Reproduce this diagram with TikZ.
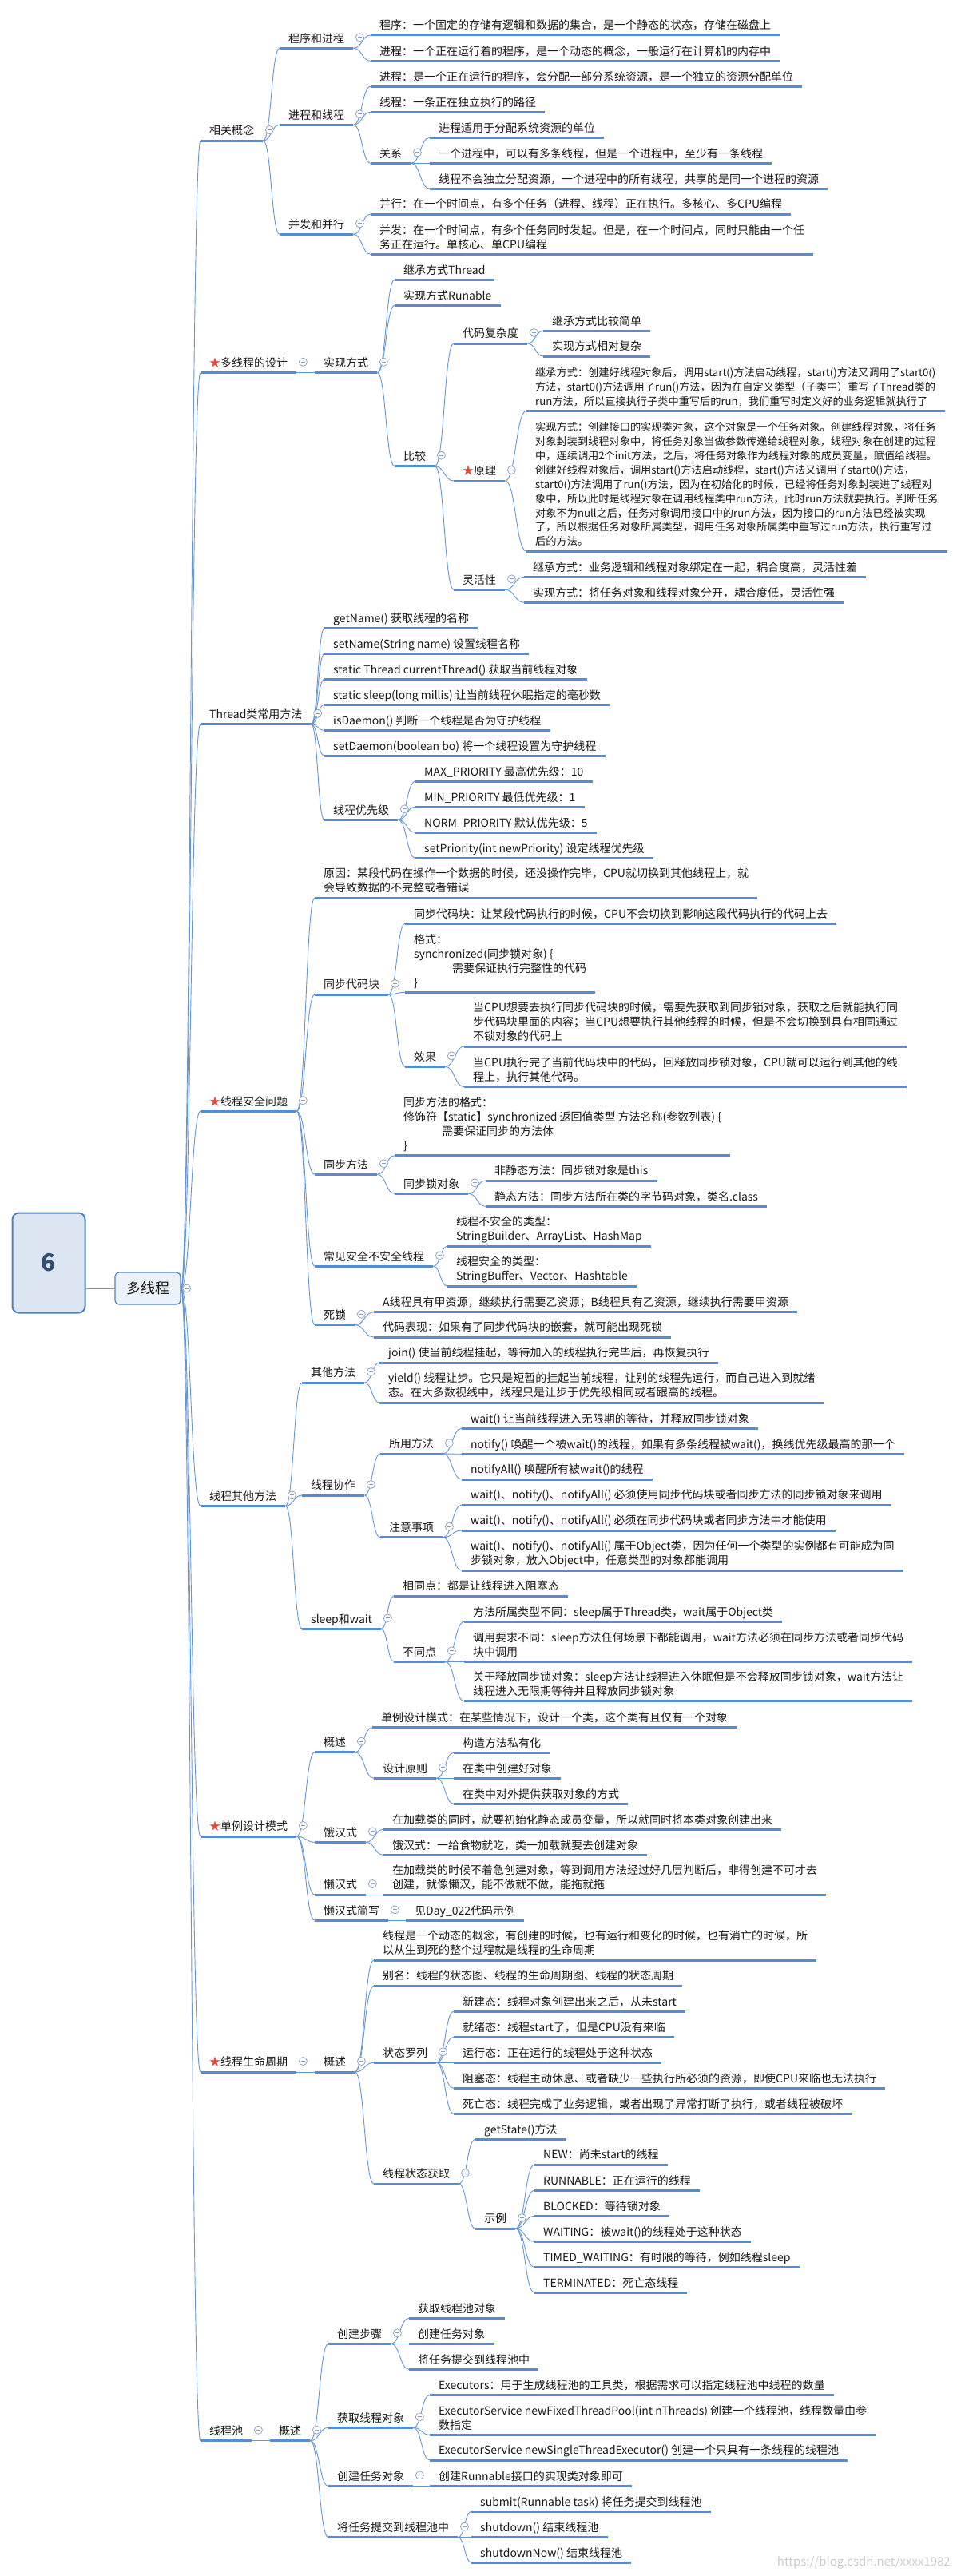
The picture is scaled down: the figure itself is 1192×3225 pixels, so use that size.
\documentclass[tikz,border=0pt]{standalone}
\usepackage{fontspec}
\setmainfont{Noto Sans CJK SC}
\usetikzlibrary{calc}
\definecolor{barblue}{RGB}{84,141,212}
\definecolor{lineblue}{RGB}{100,150,215}
\definecolor{cgray}{RGB}{130,155,195}
\definecolor{txt}{RGB}{25,25,25}
\definecolor{starred}{RGB}{232,70,60}
\definecolor{rootfill}{RGB}{220,230,242}
\definecolor{rootdraw}{RGB}{79,129,189}
\definecolor{mainfill}{RGB}{236,242,250}
\definecolor{wm}{RGB}{205,205,205}
\tikzset{
 topic/.style={anchor=south west, inner xsep=11pt, inner ysep=4pt, text height=11pt, text depth=3pt, font=\fontsize{14}{18}\selectfont, text=txt},
 topicm/.style={anchor=south west, inner xsep=11pt, inner ysep=4pt, align=left, font=\fontsize{14}{18}\selectfont, text=txt},
 bar/.style={draw=barblue, line width=3pt},
 conn/.style={draw=lineblue, line width=0.9pt},
 collapse/.style={circle, draw=cgray, fill=white, minimum size=10pt, inner sep=0pt, line width=0.7pt,
   path picture={\draw[cgray, line width=0.8pt] ([xshift=2.5pt]path picture bounding box.west) -- ([xshift=-2.5pt]path picture bounding box.east);}},
 rootbox/.style={rounded corners=8pt, draw=rootdraw, line width=2pt, fill=rootfill, minimum width=91pt, minimum height=125pt, font=\fontsize{30}{30}\selectfont\bfseries, text=rootdraw!60!black},
 mainbox/.style={rounded corners=5pt, draw=rootdraw, line width=1.2pt, fill=mainfill, minimum width=82pt, minimum height=40pt, font=\fontsize{18}{18}\selectfont, text=txt},
 small/.style={font=\fontsize{13.2}{17.9}\selectfont},
}
\newcommand\tp[4]{\node[topic] (#1) at (#2,#3) {#4};\draw[bar] (#1.south west) -- (#1.south east);}
\newcommand\tpm[5][]{\node[topicm,#1] (#2) at (#3,#4) {#5\rule[-3pt]{0pt}{3pt}};\draw[bar] (#2.south west) -- (#2.south east);}
\newcommand\cl[1]{\node[collapse] (c-#1) at ($(#1.south east)+(8,-13.5)$) {};}
\newcommand\cn[2]{\path ($(#1.south east)!0.5!(#2.south west)$) coordinate (m);\draw[conn] (#1.south east) .. controls (m |- #1.south east) and (m |- #2.south west) .. (#2.south west);}
\newcommand\rc[1]{\path ($(duo.east)!0.5!(#1.south west)$) coordinate (m);\draw[conn] (duo.east) .. controls (m |- duo.east) and (m |- #1.south west) .. (#1.south west);}
\newcommand\st{{\color{starred}★}}
\begin{document}
\begin{tikzpicture}[x=1pt,y=-1pt]
\fill[white] (0,0) rectangle (1192,3225);
\useasboundingbox (0,0) rectangle (1192,3225);
% root
\node[rootbox] (root) at (61,1581) {6};
\node[mainbox] (duo) at (185,1613) {多线程};
\draw[conn] (root.east |- duo.west) -- (duo.west);
% 相关概念
\tp{A}{251}{176}{相关概念}
\tp{A1}{350}{60.3}{程序和进程}
\tp{A1a}{464}{44}{程序：一个固定的存储有逻辑和数据的集合，是一个静态的状态，存储在磁盘上}
\tp{A1b}{464}{76.3}{进程：一个正在运行着的程序，是一个动态的概念，一般运行在计算机的内存中}
\tp{A2}{350}{156.3}{进程和线程}
\tp{A2a}{464}{108.3}{进程：是一个正在运行的程序，会分配一部分系统资源，是一个独立的资源分配单位}
\tp{A2b}{464}{140.3}{线程：一条正在独立执行的路径}
\tp{A2c}{464}{204.3}{关系}
\tp{A2c1}{538}{172.3}{进程适用于分配系统资源的单位}
\tp{A2c2}{538}{204.3}{一个进程中，可以有多条线程，但是一个进程中，至少有一条线程}
\tp{A2c3}{538}{236.3}{线程不会独立分配资源，一个进程中的所有线程，共享的是同一个进程的资源}
\tp{A3}{350}{293.3}{并发和并行}
\tp{A3a}{464}{268}{并行：在一个时间点，有多个任务（进程、线程）正在执行。多核心、多CPU编程}
\tpm{A3b}{464}{318.3}{并发：在一个时间点，有多个任务同时发起。但是，在一个时间点，同时只能由一个任\\务正在运行。单核心、单CPU编程}
% 多线程的设计
\tp{B}{251}{466.7}{\st 多线程的设计}
\tp{B1}{394}{466.7}{实现方式}
\tp{B1a}{494}{350.3}{继承方式Thread}
\tp{B1b}{494}{382.3}{实现方式Runable}
\tp{B1c}{494}{583.7}{比较}
\tp{B1c1}{568}{430}{代码复杂度}
\tp{B1c1a}{680}{414.3}{继承方式比较简单}
\tp{B1c1b}{680}{446}{实现方式相对复杂}
\tp{B1c2}{568}{602}{\st 原理}
\tpm[small]{B1c2a}{659}{514.3}{继承方式：创建好线程对象后，调用start()方法启动线程，start()方法又调用了start0()\\方法，start0()方法调用了run()方法，因为在自定义类型（子类中）重写了Thread类的\\run方法，所以直接执行子类中重写后的run，我们重写时定义好的业务逻辑就执行了}
\tpm[small]{B1c2b}{659}{690}{实现方式：创建接口的实现类对象，这个对象是一个任务对象。创建线程对象，将任务\\对象封装到线程对象中，将任务对象当做参数传递给线程对象，线程对象在创建的过程\\中，连续调用2个init方法，之后，将任务对象作为线程对象的成员变量，赋值给线程。\\创建好线程对象后，调用start()方法启动线程，start()方法又调用了start0()方法，\\start0()方法调用了run()方法，因为在初始化的时候，已经将任务对象封装进了线程对\\象中，所以此时是线程对象在调用线程类中run方法，此时run方法就要执行。判断任务\\对象不为null之后，任务对象调用接口中的run方法，因为接口的run方法已经被实现\\了，所以根据任务对象所属类型，调用任务对象所属类中重写过run方法，执行重写过\\后的方法。}
\tp{B1c3}{568}{738.3}{灵活性}
\tp{B1c3a}{656}{722.3}{继承方式：业务逻辑和线程对象绑定在一起，耦合度高，灵活性差}
\tp{B1c3b}{656}{754.3}{实现方式：将任务对象和线程对象分开，耦合度低，灵活性强}
% Thread类常用方法
\tp{C}{251}{906.7}{Thread类常用方法}
\tp{C1}{406}{786.7}{getName() 获取线程的名称}
\tp{C2}{406}{818.3}{setName(String name) 设置线程名称}
\tp{C3}{406}{850.3}{static Thread currentThread() 获取当前线程对象}
\tp{C4}{406}{882.3}{static sleep(long millis) 让当前线程休眠指定的毫秒数}
\tp{C5}{406}{914.3}{isDaemon() 判断一个线程是否为守护线程}
\tp{C6}{406}{946.3}{setDaemon(boolean bo) 将一个线程设置为守护线程}
\tp{C7}{406}{1026.3}{线程优先级}
\tp{C7a}{520}{978.3}{MAX\_PRIORITY 最高优先级：10}
\tp{C7b}{520}{1010.3}{MIN\_PRIORITY 最低优先级：1}
\tp{C7c}{520}{1042.3}{NORM\_PRIORITY 默认优先级：5}
\tp{C7d}{520}{1074.3}{setPriority(int newPriority) 设定线程优先级}
% 线程安全问题
\tp{D}{251}{1391.3}{\st 线程安全问题}
\tpm{D1}{394}{1124}{原因：某段代码在操作一个数据的时候，还没操作完毕，CPU就切换到其他线程上，就\\会导致数据的不完整或者错误}
\tp{D2}{394}{1245}{同步代码块}
\tp{D2a}{507}{1156.3}{同步代码块：让某段代码执行的时候，CPU不会切换到影响这段代码执行的代码上去}
\tpm{D2b}{507}{1242.3}{格式：\\synchronized(同步锁对象) \{\\\hspace*{48pt}需要保证执行完整性的代码\\\}}
\tp{D2c}{507}{1335.3}{效果}
\tpm{D2c1}{581}{1310}{当CPU想要去执行同步代码块的时候，需要先获取到同步锁对象，获取之后就能执行同\\步代码块里面的内容；当CPU想要执行其他线程的时候，但是不会切换到具有相同通过\\不锁对象的代码上}
\tpm{D2c2}{581}{1360.7}{当CPU执行完了当前代码块中的代码，回释放同步锁对象，CPU就可以运行到其他的线\\程上，执行其他代码。}
\tp{D3}{394}{1470.3}{同步方法}
\tpm{D3a}{494}{1446.7}{同步方法的格式：\\修饰符【static】synchronized 返回值类型 方法名称(参数列表) \{\\\hspace*{48pt}需要保证同步的方法体\\\}}
\tp{D3b}{494}{1494.3}{同步锁对象}
\tp{D3b1}{608}{1478}{非静态方法：同步锁对象是this}
\tp{D3b2}{608}{1510.3}{静态方法：同步方法所在类的字节码对象，类名.class}
\tp{D4}{394}{1585.3}{常见安全不安全线程}
\tpm{D4a}{560}{1560.3}{线程不安全的类型：\\StringBuilder、ArrayList、HashMap}
\tpm{D4b}{560}{1610}{线程安全的类型：\\StringBuffer、Vector、Hashtable}
\tp{D5}{394}{1658.7}{死锁}
\tp{D5a}{468}{1642.7}{A线程具有甲资源，继续执行需要乙资源；B线程具有乙资源，继续执行需要甲资源}
\tp{D5b}{468}{1674}{代码表现：如果有了同步代码块的嵌套，就可能出现死锁}
% 线程其他方法
\tp{E}{251}{1885.3}{线程其他方法}
\tp{E1}{378}{1731}{其他方法}
\tp{E1a}{475}{1706}{join() 使当前线程挂起，等待加入的线程执行完毕后，再恢复执行}
\tpm{E1b}{475}{1756}{yield() 线程让步。它只是短暂的挂起当前线程，让别的线程先运行，而自己进入到就绪\\态。在大多数视线中，线程只是让步于优先级相同或者跟高的线程。}
\tp{E2}{378}{1872}{线程协作}
\tp{E2a}{476}{1820}{所用方法}
\tp{E2a1}{578}{1788.3}{wait() 让当前线程进入无限期的等待，并释放同步锁对象}
\tp{E2a2}{578}{1820.3}{notify() 唤醒一个被wait()的线程，如果有多条线程被wait()，换线优先级最高的那一个}
\tp{E2a3}{578}{1852}{notifyAll() 唤醒所有被wait()的线程}
\tp{E2b}{476}{1924.7}{注意事项}
\tp{E2b1}{578}{1884}{wait()、notify()、notifyAll() 必须使用同步代码块或者同步方法的同步锁对象来调用}
\tp{E2b2}{578}{1916}{wait()、notify()、notifyAll() 必须在同步代码块或者同步方法中才能使用}
\tpm{E2b3}{578}{1966}{wait()、notify()、notifyAll() 属于Object类，因为任何一个类型的实例都有可能成为同\\步锁对象，放入Object中，任意类型的对象都能调用}
\tp{E3}{378}{2039.3}{sleep和wait}
\tp{E3a}{493}{1998}{相同点：都是让线程进入阻塞态}
\tp{E3b}{493}{2080.3}{不同点}
\tp{E3b1}{581}{2030.3}{方法所属类型不同：sleep属于Thread类，wait属于Object类}
\tpm{E3b2}{581}{2080.3}{调用要求不同：sleep方法任何场景下都能调用，wait方法必须在同步方法或者同步代码\\块中调用}
\tpm{E3b3}{581}{2129.7}{关于释放同步锁对象：sleep方法让线程进入休眠但是不会释放同步锁对象，wait方法让\\线程进入无限期等待并且释放同步锁对象}
% 单例设计模式
\tp{F}{251}{2299}{\st 单例设计模式}
\tp{F1}{394}{2193.7}{概述}
\tp{F1a}{466}{2162.7}{单例设计模式：在某些情况下，设计一个类，这个类有且仅有一个对象}
\tp{F1b}{468}{2226.3}{设计原则}
\tp{F1b1}{568}{2194.3}{构造方法私有化}
\tp{F1b2}{568}{2226.3}{在类中创建好对象}
\tp{F1b3}{568}{2258.3}{在类中对外提供获取对象的方式}
\tp{F2}{394}{2306.3}{饿汉式}
\tp{F2a}{480}{2290.3}{在加载类的同时，就要初始化静态成员变量，所以就同时将本类对象创建出来}
\tp{F2b}{480}{2322.3}{饿汉式：一给食物就吃，类一加载就要去创建对象}
\tp{F3}{394}{2372}{懒汉式}
\tpm{F3a}{480}{2372}{在加载类的时候不着急创建对象，等到调用方法经过好几层判断后，非得创建不可才去\\创建，就像懒汉，能不做就不做，能拖就拖}
\tp{F4}{394}{2404.3}{懒汉式简写}
\tp{F4a}{508}{2404.3}{见Day\_022代码示例}
% 线程生命周期
\tp{G}{251}{2594}{\st 线程生命周期}
\tp{G1}{394}{2594}{概述}
\tpm{G1a}{468}{2454}{线程是一个动态的概念，有创建的时候，也有运行和变化的时候，也有消亡的时候，所\\以从生到死的整个过程就是线程的生命周期}
\tp{G1b}{468}{2486}{别名：线程的状态图、线程的生命周期图、线程的状态周期}
\tp{G1c}{468}{2582.3}{状态罗列}
\tp{G1c1}{568}{2518.3}{新建态：线程对象创建出来之后，从未start}
\tp{G1c2}{568}{2550.3}{就绪态：线程start了，但是CPU没有来临}
\tp{G1c3}{568}{2582.3}{运行态：正在运行的线程处于这种状态}
\tp{G1c4}{568}{2614.3}{阻塞态：线程主动休息、或者缺少一些执行所必须的资源，即使CPU来临也无法执行}
\tp{G1c5}{568}{2646.3}{死亡态：线程完成了业务逻辑，或者出现了异常打断了执行，或者线程被破坏}
\tp{G1d}{468}{2734}{线程状态获取}
\tp{G1d1}{595}{2678.3}{getState()方法}
\tp{G1d2}{595}{2790}{示例}
\tp{G1d2a}{669}{2710}{NEW：尚未start的线程}
\tp{G1d2b}{669}{2742.3}{RUNNABLE：正在运行的线程}
\tp{G1d2c}{669}{2774.3}{BLOCKED：等待锁对象}
\tp{G1d2d}{669}{2806.3}{WAITING：被wait()的线程处于这种状态}
\tp{G1d2e}{669}{2838.3}{TIMED\_WAITING：有时限的等待，例如线程sleep}
\tp{G1d2f}{669}{2870.3}{TERMINATED：死亡态线程}
% 线程池
\tp{H}{251}{3055.7}{线程池}
\tp{H1}{338}{3055.7}{概述}
\tp{H1a}{411}{2934.3}{创建步骤}
\tp{H1a1}{512}{2902.3}{获取线程池对象}
\tp{H1a2}{512}{2934.3}{创建任务对象}
\tp{H1a3}{512}{2966.3}{将任务提交到线程池中}
\tp{H1b}{411}{3039.3}{获取线程对象}
\tp{H1b1}{538}{2998.3}{Executors：用于生成线程池的工具类，根据需求可以指定线程池中线程的数量}
\tpm{H1b2}{538}{3048.3}{ExecutorService newFixedThreadPool(int nThreads) 创建一个线程池，线程数量由参\\数指定}
\tp{H1b3}{538}{3080}{ExecutorService newSingleThreadExecutor() 创建一个只具有一条线程的线程池}
\tp{H1c}{411}{3112.3}{创建任务对象}
\tp{H1c1}{538}{3112.3}{创建Runnable接口的实现类对象即可}
\tp{H1d}{411}{3176.7}{将任务提交到线程池中}
\tp{H1d1}{590}{3144.3}{submit(Runnable task) 将任务提交到线程池}
\tp{H1d2}{590}{3176.3}{shutdown() 结束线程池}
\tp{H1d3}{590}{3208.3}{shutdownNow() 结束线程池}
% connectors
\foreach \c in {A,B,C,D,E,F,G,H} {\rc{\c}}
\foreach \p/\c in {A/A1,A/A2,A/A3,A1/A1a,A1/A1b,A2/A2a,A2/A2b,A2/A2c,A2c/A2c1,A2c/A2c2,A2c/A2c3,A3/A3a,A3/A3b,
 B/B1,B1/B1a,B1/B1b,B1/B1c,B1c/B1c1,B1c/B1c2,B1c/B1c3,B1c1/B1c1a,B1c1/B1c1b,B1c2/B1c2a,B1c2/B1c2b,B1c3/B1c3a,B1c3/B1c3b,
 C/C1,C/C2,C/C3,C/C4,C/C5,C/C6,C/C7,C7/C7a,C7/C7b,C7/C7c,C7/C7d,
 D/D1,D/D2,D/D3,D/D4,D/D5,D2/D2a,D2/D2b,D2/D2c,D2c/D2c1,D2c/D2c2,D3/D3a,D3/D3b,D3b/D3b1,D3b/D3b2,D4/D4a,D4/D4b,D5/D5a,D5/D5b,
 E/E1,E/E2,E/E3,E1/E1a,E1/E1b,E2/E2a,E2/E2b,E2a/E2a1,E2a/E2a2,E2a/E2a3,E2b/E2b1,E2b/E2b2,E2b/E2b3,E3/E3a,E3/E3b,E3b/E3b1,E3b/E3b2,E3b/E3b3,
 F/F1,F/F2,F/F3,F/F4,F1/F1a,F1/F1b,F1b/F1b1,F1b/F1b2,F1b/F1b3,F2/F2a,F2/F2b,F3/F3a,F4/F4a,
 G/G1,G1/G1a,G1/G1b,G1/G1c,G1/G1d,G1c/G1c1,G1c/G1c2,G1c/G1c3,G1c/G1c4,G1c/G1c5,G1d/G1d1,G1d/G1d2,G1d2/G1d2a,G1d2/G1d2b,G1d2/G1d2c,G1d2/G1d2d,G1d2/G1d2e,G1d2/G1d2f,
 H/H1,H1/H1a,H1/H1b,H1/H1c,H1/H1d,H1a/H1a1,H1a/H1a2,H1a/H1a3,H1b/H1b1,H1b/H1b2,H1b/H1b3,H1c/H1c1,H1d/H1d1,H1d/H1d2,H1d/H1d3}
 {\cn{\p}{\c}}
% collapse markers
\foreach \p in {A,A1,A2,A2c,A3,B,B1,B1c,B1c1,B1c2,B1c3,C,C7,D,D2,D2c,D3,D3b,D4,D5,E,E1,E2,E2a,E2b,E3,E3b,F,F1,F1b,F2,F3,F4,G,G1,G1c,G1d,G1d2,H,H1,H1a,H1b,H1c,H1d} {\cl{\p}}
\node[collapse] (c-duo) at ($(duo.east)+(7,0)$) {};
% watermark
\node[anchor=east, text=wm, font=\fontsize{15}{15}\selectfont, inner sep=0pt] (wmark) at (1190,3208) {https://blog.csdn.net/xxxx1982};
\end{tikzpicture}
\end{document}
